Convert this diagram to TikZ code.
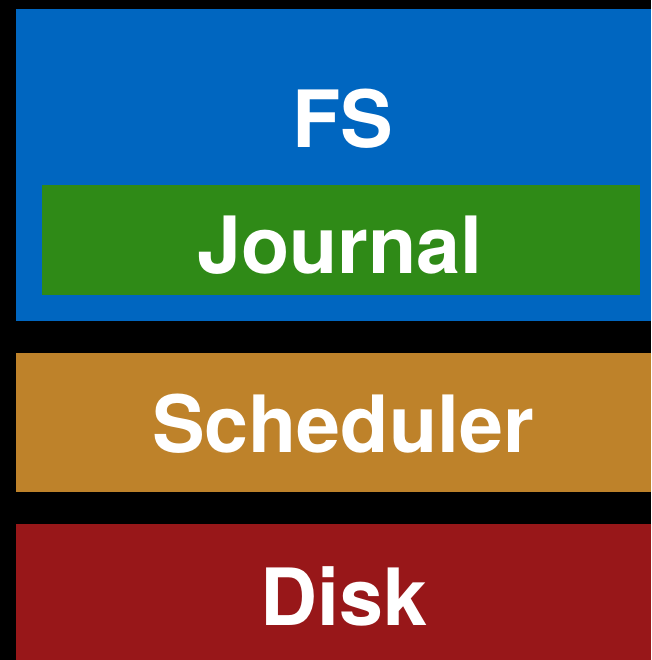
\documentclass[tikz,border=0pt]{standalone}
\usepackage{fontspec}
\setmainfont{TeX Gyre Heros}
\definecolor{fsblue}{RGB}{0,102,192}
\definecolor{jgreen}{RGB}{47,138,23}
\definecolor{sorange}{RGB}{190,130,42}
\definecolor{dred}{RGB}{152,23,25}
\begin{document}
\begin{tikzpicture}[x=1pt,y=-1pt,
  lbl/.style={text=white,font=\fontsize{79}{79}\selectfont\bfseries,anchor=base,inner sep=0pt}]
\fill[black] (0,0) rectangle (651,660);
\useasboundingbox (0,0) rectangle (651,660);
\fill[fsblue] (16,9) rectangle (651,321);
\fill[jgreen] (42,185) rectangle (640,295);
\fill[sorange] (16,353) rectangle (651,492);
\fill[dred] (16,524) rectangle (651,660);
\node[lbl] (fs) at (343,148) {FS};
\node[lbl] (journal) at (340,273) {Journal};
\node[lbl] (sched) at (343,452) {Scheduler};
\node[lbl] (disk) at (344,625) {Disk};
\end{tikzpicture}
\end{document}
